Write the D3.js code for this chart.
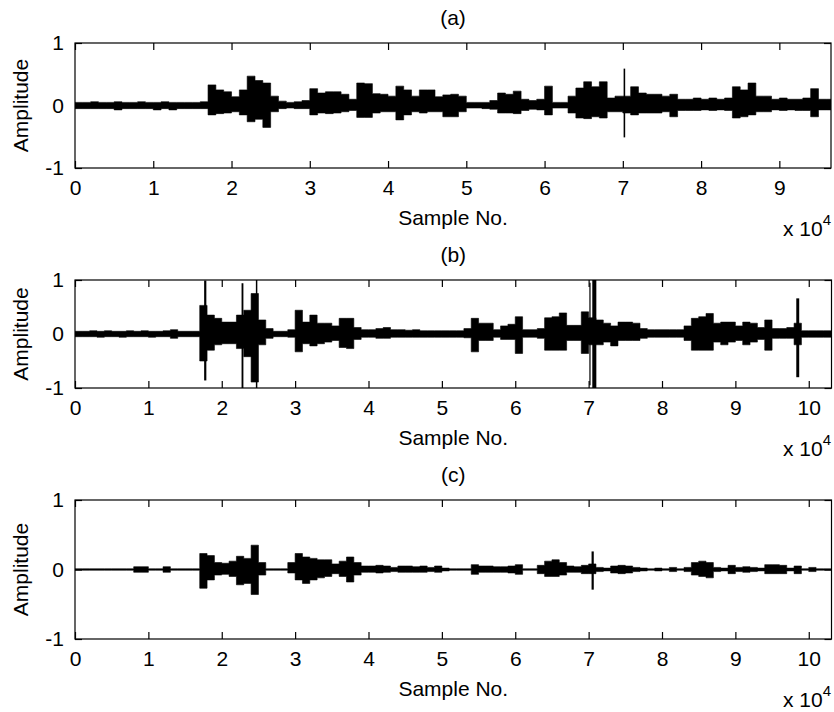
<!DOCTYPE html>
<html>
<head>
<meta charset="utf-8">
<script src="https://cdn.jsdelivr.net/npm/d3@7"></script>
<style>
body { margin: 0; background: #fff; }
text { font-family: "Liberation Sans", Arial, sans-serif; font-size: 21px; fill: #000; }
</style>
</head>
<body>
<svg id="chart" width="834" height="712"></svg>
<script>
// envelope of each signal, one value per 1000 samples (max / min of the bin)
var binSize = 1000;
var titles = ["(a)", "(b)", "(c)"];
var sampleMax = [96600, 103100, 103100];
var xTicksA = [0, 1, 2, 3, 4, 5, 6, 7, 8, 9];
var xTicksBC = [0, 1, 2, 3, 4, 5, 6, 7, 8, 9, 10];
var yTicks = [-1, 0, 1];

var hiA = [0.05,0.05,0.06,0.05,0.05,0.06,0.05,0.05,0.06,0.05,0.05,0.06,0.05,0.05,0.05,0.05,0.06,
  0.33,0.25,0.22,0.14,0.25,0.47,0.40,0.36,0.15,0.07,
  0.05,0.06,0.08,
  0.27,0.20,0.22,0.22,0.18,0.10,0.36,0.35,0.19,0.18,
  0.15,0.31,0.25,0.15,0.25,0.25,0.14,0.17,0.18,0.15,
  0.05,0.05,0.05,0.08,0.20,0.18,0.23,0.10,0.08,0.10,
  0.31,0.05,0.05,0.15,0.28,0.38,0.30,0.38,0.12,0.15,
  0.15,0.30,0.20,0.18,0.18,0.15,0.18,0.10,0.10,0.12,
  0.10,0.12,0.10,0.12,0.30,0.25,0.36,0.15,0.15,0.10,
  0.12,0.10,0.10,0.12,0.27,0.10,0.10];
var loA = [-0.05,-0.05,-0.05,-0.05,-0.05,-0.07,-0.05,-0.05,-0.05,-0.05,-0.07,-0.05,-0.07,-0.05,-0.05,-0.05,-0.05,
  -0.15,-0.13,-0.12,-0.10,-0.15,-0.26,-0.22,-0.35,-0.10,-0.05,
  -0.04,-0.05,-0.05,
  -0.15,-0.12,-0.13,-0.12,-0.10,-0.08,-0.19,-0.19,-0.12,-0.10,
  -0.10,-0.23,-0.15,-0.10,-0.12,-0.10,-0.10,-0.18,-0.18,-0.10,
  -0.04,-0.04,-0.05,-0.06,-0.12,-0.12,-0.13,-0.08,-0.06,-0.07,
  -0.15,-0.04,-0.04,-0.12,-0.20,-0.21,-0.18,-0.20,-0.10,-0.10,
  -0.12,-0.15,-0.12,-0.12,-0.12,-0.10,-0.18,-0.08,-0.08,-0.08,
  -0.07,-0.08,-0.07,-0.08,-0.20,-0.18,-0.15,-0.10,-0.10,-0.07,
  -0.08,-0.07,-0.08,-0.08,-0.18,-0.07,-0.07];

var hiB = [0.05,0.05,0.06,0.05,0.06,0.05,0.05,0.06,0.05,0.06,0.05,0.05,0.06,0.08,0.05,0.05,0.05,
  0.53,0.35,0.29,0.22,0.22,0.35,0.44,0.75,0.26,0.10,
  0.05,0.05,0.08,
  0.44,0.22,0.35,0.20,0.20,0.15,0.29,0.29,0.12,0.08,
  0.08,0.10,0.12,0.08,0.08,0.07,0.08,0.06,0.06,0.06,
  0.06,0.06,0.06,0.10,0.29,0.20,0.20,0.08,0.15,0.18,
  0.32,0.08,0.08,0.10,0.30,0.32,0.39,0.16,0.16,0.41,
  0.30,0.26,0.20,0.15,0.22,0.22,0.20,0.10,0.08,0.08,
  0.08,0.08,0.08,0.15,0.29,0.32,0.38,0.20,0.22,0.22,
  0.15,0.22,0.20,0.12,0.26,0.10,0.10,0.12,0.20,0.06,
  0.06,0.06,0.06,0.06];
var loB = [-0.05,-0.05,-0.05,-0.06,-0.05,-0.05,-0.06,-0.05,-0.05,-0.05,-0.06,-0.05,-0.05,-0.08,-0.05,-0.05,-0.05,
  -0.50,-0.30,-0.20,-0.18,-0.18,-0.27,-0.42,-0.89,-0.20,-0.08,
  -0.05,-0.05,-0.06,
  -0.33,-0.18,-0.22,-0.18,-0.15,-0.12,-0.25,-0.27,-0.10,-0.06,
  -0.06,-0.08,-0.08,-0.06,-0.06,-0.06,-0.06,-0.06,-0.06,-0.06,
  -0.06,-0.06,-0.06,-0.07,-0.33,-0.12,-0.12,-0.06,-0.10,-0.10,
  -0.36,-0.06,-0.06,-0.08,-0.30,-0.30,-0.30,-0.12,-0.12,-0.36,
  -0.20,-0.20,-0.15,-0.22,-0.12,-0.12,-0.12,-0.08,-0.06,-0.06,
  -0.06,-0.06,-0.06,-0.12,-0.30,-0.30,-0.30,-0.15,-0.20,-0.15,
  -0.12,-0.20,-0.15,-0.10,-0.30,-0.08,-0.08,-0.08,-0.20,-0.06,
  -0.06,-0.06,-0.06,-0.06];

var hiC = [0.01,0.01,0.01,0.01,0.01,0.01,0.01,0.01,0.04,0.04,0.01,0.01,0.04,0.01,0.01,0.01,0.01,
  0.23,0.20,0.10,0.09,0.12,0.19,0.16,0.35,0.10,0.01,
  0.01,0.01,0.10,
  0.23,0.18,0.16,0.14,0.14,0.08,0.12,0.18,0.10,0.05,
  0.05,0.06,0.05,0.03,0.05,0.05,0.04,0.05,0.03,0.05,
  0.02,0.01,0.01,0.01,0.07,0.05,0.05,0.04,0.04,0.05,
  0.07,0.01,0.01,0.06,0.12,0.14,0.10,0.05,0.04,0.06,
  0.08,0.03,0.02,0.05,0.06,0.05,0.03,0.02,0.01,0.02,
  0.01,0.03,0.01,0.03,0.10,0.12,0.10,0.03,0.02,0.06,
  0.03,0.04,0.03,0.02,0.07,0.07,0.06,0.02,0.05,0.01,
  0.03,0.01,0.01,0.01];
var loC = [-0.01,-0.01,-0.01,-0.01,-0.01,-0.01,-0.01,-0.01,-0.04,-0.04,-0.01,-0.01,-0.04,-0.01,-0.01,-0.01,-0.01,
  -0.27,-0.15,-0.08,-0.07,-0.10,-0.22,-0.20,-0.36,-0.08,-0.01,
  -0.01,-0.01,-0.05,
  -0.15,-0.20,-0.15,-0.12,-0.10,-0.06,-0.10,-0.18,-0.08,-0.04,
  -0.04,-0.05,-0.04,-0.03,-0.04,-0.04,-0.04,-0.04,-0.03,-0.04,
  -0.02,-0.01,-0.01,-0.01,-0.07,-0.04,-0.04,-0.04,-0.04,-0.05,
  -0.07,-0.01,-0.01,-0.06,-0.10,-0.10,-0.08,-0.04,-0.04,-0.06,
  -0.06,-0.03,-0.02,-0.05,-0.06,-0.05,-0.03,-0.02,-0.01,-0.02,
  -0.01,-0.03,-0.01,-0.03,-0.08,-0.10,-0.12,-0.03,-0.02,-0.06,
  -0.03,-0.04,-0.03,-0.02,-0.06,-0.06,-0.06,-0.02,-0.06,-0.01,
  -0.03,-0.01,-0.01,-0.01];

// narrow peaks: [from sample, to sample, max, min]
var spikesA = [[70100, 70300, 0.59, -0.51]];
var spikesB = [[17600, 17900, 0.99, -0.86], [22700, 22950, 0.94, -1], [24650, 24850, 1, -1],
  [70100, 70250, 0.95, -0.95], [70500, 71050, 1, -1], [98300, 98700, 0.66, -0.8]];
var spikesC = [[70400, 70700, 0.26, -0.29]];

var svg = d3.select("#chart");

// plot boxes (px)
var boxes = [
  {left: 75, right: 831, top: 43, bottom: 168},
  {left: 75, right: 831.5, top: 280, bottom: 388},
  {left: 75, right: 831.5, top: 500, bottom: 639}
];
var panels = [
  {hi: hiA, lo: loA, spikes: spikesA, ticks: xTicksA},
  {hi: hiB, lo: loB, spikes: spikesB, ticks: xTicksBC},
  {hi: hiC, lo: loC, spikes: spikesC, ticks: xTicksBC}
];

panels.forEach(function(p, k) {
  var b = boxes[k];
  var x = d3.scaleLinear().domain([0, sampleMax[k]]).range([b.left, b.right]);
  var y = d3.scaleLinear().domain([-1, 1]).range([b.bottom, b.top]);

  var g = svg.append("g");

  g.append("clipPath").attr("id", "clip" + k)
    .append("rect")
    .attr("x", b.left).attr("y", b.top)
    .attr("width", b.right - b.left).attr("height", b.bottom - b.top);

  var pts = p.hi.map(function(h, i) {
    return {s: i * binSize, hi: h, lo: p.lo[i]};
  });
  var last = pts[pts.length - 1];
  pts.push({s: sampleMax[k], hi: last.hi, lo: last.lo});

  var area = d3.area()
    .x(function(d) { return x(d.s); })
    .y0(function(d) { return y(d.lo); })
    .y1(function(d) { return y(d.hi); })
    .curve(d3.curveStepAfter);

  var wave = g.append("g").attr("clip-path", "url(#clip" + k + ")");
  wave.append("path")
    .datum(pts)
    .attr("d", area)
    .attr("fill", "#000")
    .attr("stroke", "#000")
    .attr("stroke-width", 0.6);

  wave.selectAll("rect.spike")
    .data(p.spikes)
    .enter().append("rect")
    .attr("class", "spike")
    .attr("x", function(d) { return x(d[0]); })
    .attr("width", function(d) { return Math.max(1.2, x(d[1]) - x(d[0])); })
    .attr("y", function(d) { return y(d[2]); })
    .attr("height", function(d) { return y(d[3]) - y(d[2]); })
    .attr("fill", "#000");

  // axes, ticks pointing inward
  var tv = p.ticks.map(function(t) { return t * 10000; });
  var fmt = function(d) { return d / 10000; };

  var xb = g.append("g")
    .attr("transform", "translate(0," + b.bottom + ")")
    .call(d3.axisBottom(x).tickValues(tv).tickFormat(fmt).tickSizeInner(-7).tickSizeOuter(0).tickPadding(12));
  var xt = g.append("g")
    .attr("transform", "translate(0," + b.top + ")")
    .call(d3.axisTop(x).tickValues(tv).tickFormat("").tickSizeInner(-7).tickSizeOuter(0));
  var yl = g.append("g")
    .attr("transform", "translate(" + b.left + ",0)")
    .call(d3.axisLeft(y).tickValues(yTicks).tickFormat(function(d) { return String(d); }).tickSizeInner(-7).tickSizeOuter(0).tickPadding(11));
  var yr = g.append("g")
    .attr("transform", "translate(" + b.right + ",0)")
    .call(d3.axisRight(y).tickValues(yTicks).tickFormat("").tickSizeInner(-7).tickSizeOuter(0));

  [xb, xt, yl, yr].forEach(function(a) {
    a.select(".domain").remove();
    a.selectAll("line").attr("stroke", "#000").attr("stroke-width", 1.2);
    a.selectAll("text").attr("font-family", null).attr("font-size", null).attr("fill", "#000");
  });

  g.append("rect")
    .attr("x", b.left).attr("y", b.top)
    .attr("width", b.right - b.left).attr("height", b.bottom - b.top)
    .attr("fill", "none")
    .attr("stroke", "#000")
    .attr("stroke-width", 1.2);

  var cx = (b.left + b.right) / 2;

  g.append("text")
    .attr("x", cx).attr("y", b.top - 18)
    .attr("text-anchor", "middle")
    .text(titles[k]);

  g.append("text")
    .attr("x", cx).attr("y", b.bottom + 57)
    .attr("text-anchor", "middle")
    .text("Sample No.");

  g.append("text")
    .attr("transform", "translate(28," + ((b.top + b.bottom) / 2) + ") rotate(-90)")
    .attr("text-anchor", "middle")
    .text("Amplitude");

  var mult = g.append("text")
    .attr("x", 831).attr("y", b.bottom + 68)
    .attr("text-anchor", "end");
  mult.append("tspan").text("x 10");
  mult.append("tspan").attr("dy", -11).style("font-size", "15px").text("4");
});
</script>
</body>
</html>
